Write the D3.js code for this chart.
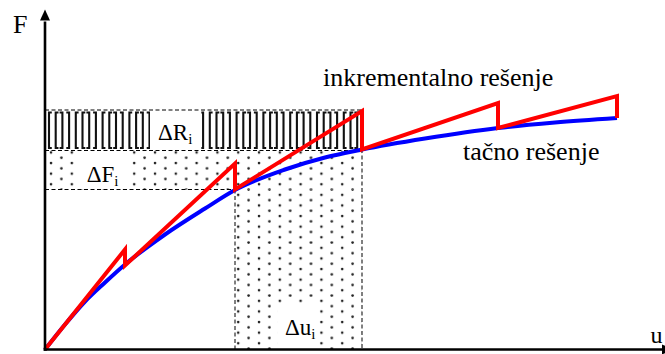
<!DOCTYPE html>
<html><head><meta charset="utf-8">
<script src="https://cdn.jsdelivr.net/npm/d3@7"></script>
<style>
body{margin:0;background:#fff}
svg{display:block}
text{font-family:"Liberation Serif","Times New Roman",serif;fill:#000}
</style>
</head><body>
<svg id="c" width="665" height="354"></svg>
<script>
// exact (tačno) solution
const curveU = [0, 20, 40, 60, 80, 120, 160, 190, 240, 280, 317, 380, 453, 510, 572];
const curveF = [0, 25, 48, 67, 85, 115, 141, 159.5, 180, 192, 200, 211, 221.5, 227, 231.5];
// incremental solution: load steps, tangent-predicted peaks and corrected values
const stepU = [0, 80, 190, 317, 453, 572];
const stepPeakF = [0, 100, 186, 238.5, 246.5, 253.5];
const stepExactF = [0, 84, 160, 200, 221.5, 231.5];
const incIndex = 3; // the increment i: from stepU[2] to stepU[3]
const axisNames = ["F", "u"];
const curveNames = ["inkrementalno rešenje", "tačno rešenje"];
const deltaNames = ["ΔR", "ΔF", "Δu"];
const deltaSub = "i";

const FONT = '"Liberation Serif","Times New Roman",serif';
const svg = d3.select("#c");
const x = d3.scaleLinear().domain([0, 618]).range([45, 663]);
const y = d3.scaleLinear().domain([0, 340]).range([349.5, 9.5]);

const u0 = stepU[incIndex - 1], u1 = stepU[incIndex];
const F0 = stepExactF[incIndex - 1], F1 = stepExactF[incIndex], R1 = stepPeakF[incIndex];

const defs = svg.append("defs");
// dot pattern
const dp = defs.append("pattern").attr("id", "dots").attr("patternUnits", "userSpaceOnUse")
  .attr("x", x(0) + 1).attr("y", y(F1)).attr("width", 20.8).attr("height", 10.6);
dp.append("circle").attr("cx", 5).attr("cy", 3).attr("r", 1.3).attr("fill", "#222");
dp.append("circle").attr("cx", 15.4).attr("cy", 8.3).attr("r", 1.3).attr("fill", "#222");

// ΔR band: vertical bracket bars
const bandTop = y(R1), bandBot = y(F1);
const barG = svg.append("g");
const barStep = 6.7;
d3.range(x(0) + 4, x(u1) - 2, barStep).forEach((bx, k) => {
  const dir = (Math.floor(k / 2) % 2 === 0) ? 1 : -1;
  const t = bandTop + 1.5, b = bandBot - 1.5, s = 2.8 * dir;
  barG.append("path")
    .attr("d", `M${bx + s},${t}H${bx}V${b}H${bx + s}`)
    .attr("fill", "none").attr("stroke", "#111").attr("stroke-width", 2.1);
});

// dotted regions
svg.append("rect").attr("x", x(0)).attr("y", y(F1)).attr("width", x(u1) - x(0)).attr("height", y(F0) - y(F1))
  .attr("fill", "url(#dots)");
svg.append("rect").attr("x", x(u0)).attr("y", y(F0)).attr("width", x(u1) - x(u0)).attr("height", y(0) - y(F0))
  .attr("fill", "url(#dots)");

// delta labels with white backgrounds
function deltaLabel(name, tx, ty, boxTop, boxBot, padL, padR) {
  const g = svg.append("g");
  const bg = g.append("rect").attr("fill", "#fff");
  const t = g.append("text").attr("x", tx).attr("y", ty).attr("font-size", 23).style("font-family", FONT);
  t.append("tspan").text(name);
  t.append("tspan").attr("dy", 4).attr("font-size", 15).text(deltaSub);
  const bb = t.node().getBBox();
  bg.attr("x", bb.x - padL).attr("width", bb.width + padL + padR)
    .attr("y", boxTop).attr("height", boxBot - boxTop);
}
deltaLabel(deltaNames[0], x(113), y(209.5), bandTop, bandBot, 8, 9);
deltaLabel(deltaNames[1], x(41.7), y(167.8), y(F1) + 1, y(F0), 11, 9);
deltaLabel(deltaNames[2], x(240), y(14.5), 303, y(0), 7, 4);

// dashed guide lines
const dash = svg.append("g").attr("stroke", "#000").attr("stroke-width", 1)
  .attr("stroke-dasharray", "4,2.5").attr("fill", "none");
dash.append("line").attr("x1", x(0)).attr("x2", x(u1)).attr("y1", y(R1) - 1).attr("y2", y(R1) - 1);
dash.append("line").attr("x1", x(0)).attr("x2", x(u1)).attr("y1", y(F1) + 1).attr("y2", y(F1) + 1);
dash.append("line").attr("x1", x(0)).attr("x2", x(u0)).attr("y1", y(F0)).attr("y2", y(F0));
dash.append("line").attr("x1", x(u0)).attr("x2", x(u0)).attr("y1", y(F0)).attr("y2", y(0));
dash.append("line").attr("x1", x(u1)).attr("x2", x(u1)).attr("y1", y(R1) - 1).attr("y2", y(0));

// exact curve
const line = d3.line().x(d => x(d[0])).y(d => y(d[1]));
svg.append("path").datum(curveU.map((u, i) => [u, curveF[i]]))
  .attr("d", line.curve(d3.curveMonotoneX))
  .attr("fill", "none").attr("stroke", "#0000ff").attr("stroke-width", 4);

// incremental curve
const red = [[stepU[0], stepExactF[0]]];
for (let k = 1; k < stepU.length; k++) {
  red.push([stepU[k], stepPeakF[k]]);
  red.push([stepU[k], stepExactF[k]]);
}
svg.append("path").datum(red)
  .attr("d", d3.line().x(d => x(d[0])).y(d => y(d[1])))
  .attr("fill", "none").attr("stroke", "#ff0000").attr("stroke-width", 4)
  .attr("stroke-linejoin", "miter").attr("stroke-miterlimit", 10);

// axes
svg.append("g").attr("transform", `translate(0,${y(0)})`)
  .call(d3.axisBottom(x).tickValues([]).tickSizeOuter(0))
  .call(g => g.select(".domain").attr("stroke-width", 2.6).attr("d", `M${x(0) - 1.3},0H${x(618)}`));
svg.append("g").attr("transform", `translate(${x(0)},0)`)
  .call(d3.axisLeft(y).tickValues([]).tickSizeOuter(0))
  .call(g => g.select(".domain").attr("stroke-width", 2.6).attr("d", `M0,${y(0) + 1.3}V${y(328)}`));
svg.append("path").attr("d", `M${x(0) - 5},${y(329)}L${x(0)},${y(340)}L${x(0) + 5},${y(329)}Z`).attr("fill", "#000");
svg.append("path").attr("d", `M${x(617)},${y(0) - 5}L${x(628)},${y(0)}L${x(617)},${y(0) + 5}Z`).attr("fill", "#000");

// text labels
const lab = (tx, ty, fs, s) => svg.append("text").attr("x", tx).attr("y", ty).attr("font-size", fs)
  .style("font-family", FONT).text(s);
lab(13, 33, 26, axisNames[0]);
lab(650.5, 343, 24, axisNames[1]);
lab(323, 85.5, 26, curveNames[0]);
lab(463, 160, 26, curveNames[1]);
</script>
</body></html>
